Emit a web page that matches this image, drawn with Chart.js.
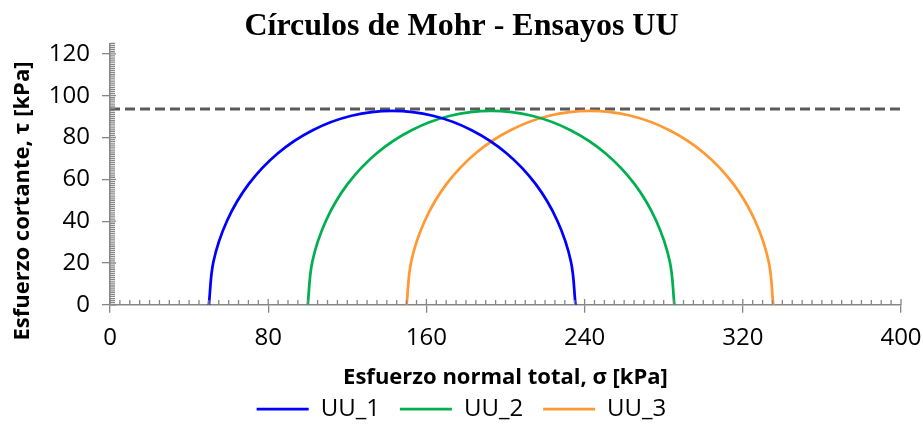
<!DOCTYPE html>
<html>
<head>
<meta charset="utf-8">
<script src="https://cdn.jsdelivr.net/npm/chart.js@4/dist/chart.umd.min.js"></script>
<style>
  body { margin: 0; background: #fff; }
  #wrap { width: 923px; height: 426px; }
</style>
</head>
<body>
<div id="wrap"><canvas id="myChart"></canvas></div>
<script>

// shear stress of the sampled points on each circle (kPa)
var tau = [0, 20.6, 40.2, 57.8, 72.5, 83.5, 90.4, 92.7, 90.4, 83.5, 72.5, 57.8, 40.2, 20.6, 0];

// total normal stress of the same points (kPa)
var sigmaUU1 = [50.0, 52.3, 59.2, 70.2, 84.9, 102.5, 122.1, 142.7, 163.3, 182.9, 200.5, 215.2, 226.2, 233.1, 235.4];
var sigmaUU2 = [100.0, 102.3, 109.2, 120.2, 134.9, 152.5, 172.1, 192.7, 213.3, 232.9, 250.5, 265.2, 276.2, 283.1, 285.4];
var sigmaUU3 = [150.0, 152.3, 159.2, 170.2, 184.9, 202.5, 222.1, 242.7, 263.3, 282.9, 300.5, 315.2, 326.2, 333.1, 335.4];

var seriesNames = ['UU_1', 'UU_2', 'UU_3'];
var seriesColors = ['#0000ff', '#00b050', '#ff9933'];

// undrained strength line
var cuSigma = [0, 400];
var cuTau = [93.6, 93.6];

var axisGray = '#868686';
var yTitle = 'Esfuerzo cortante, τ [kPa]';

function toPoints(xs, ys) {
  var pts = [];
  for (var i = 0; i < xs.length; i++) {
    pts.push({ x: xs[i], y: ys[i] });
  }
  return pts;
}

function circleDataset(i, sigma) {
  return {
    label: seriesNames[i],
    data: toPoints(sigma, tau),
    borderColor: seriesColors[i],
    backgroundColor: seriesColors[i],
    borderWidth: 2.75,
    pointRadius: 0,
    showLine: true,
    tension: 0.35,
    clip: false
  };
}

// minor ticks pointing inside, major ticks crossing the axis, y title
var axisTicks = {
  id: 'axisTicks',
  afterDraw: function(chart) {

    var ctx = chart.ctx;
    var x = chart.scales.x;
    var y = chart.scales.y;
    var bottom = Math.round(y.getPixelForValue(0));
    var left = Math.round(x.getPixelForValue(0));

    ctx.save();
    ctx.strokeStyle = axisGray;
    ctx.lineWidth = 1.3;
    ctx.beginPath();

    for (var v = 0; v <= 400; v += 5) {
      var px = x.getPixelForValue(v);
      var len = (v % 80 === 0) ? 6 : 5;
      ctx.moveTo(px, bottom);
      ctx.lineTo(px, bottom - len);
    }

    for (var t = 0; t <= 125; t += 1) {
      var py = y.getPixelForValue(t);
      var len2 = (t % 20 === 0) ? 6 : 5;
      ctx.moveTo(left, py);
      ctx.lineTo(left + len2, py);
    }

    ctx.stroke();

    // y axis title, placed like the original (a bit below the plot centre)
    ctx.translate(23, 201);
    ctx.rotate(-Math.PI / 2);
    ctx.fillStyle = '#000';
    ctx.font = 'bold 22px "Open Sans"';
    ctx.textAlign = 'center';
    ctx.textBaseline = 'middle';
    ctx.fillText(yTitle, 0, 0);
    ctx.restore();
  }
};

function init() {

  var ctx = document.getElementById('myChart').getContext('2d');

  var datasets = [
    circleDataset(0, sigmaUU1),
    circleDataset(1, sigmaUU2),
    circleDataset(2, sigmaUU3),
    {
      label: 'cu',
      data: toPoints(cuSigma, cuTau),
      borderColor: '#5a5a5a',
      backgroundColor: '#5a5a5a',
      borderWidth: 3,
      borderDash: [10, 5],
      pointRadius: 0,
      showLine: true,
      clip: false
    }
  ];

  var chart = new Chart(ctx, {
    type: 'scatter',
    data: { datasets: datasets },
    options: {
      responsive: true,
      maintainAspectRatio: false,
      animation: false,
      layout: { padding: { top: 0, right: 0, bottom: -5, left: 0 } },
      plugins: {
        title: {
          display: true,
          text: 'Círculos de Mohr - Ensayos UU',
          color: '#000',
          font: { family: 'Liberation Serif', size: 32, weight: 'bold' },
          padding: { top: 8, bottom: -3 }
        },
        legend: {
          position: 'bottom',
          labels: {
            boxWidth: 52,
            boxHeight: 0,
            padding: 20,
            color: '#000',
            font: { family: 'Open Sans', size: 24 },
            filter: function(item) { return item.datasetIndex < 3; }
          }
        },
        tooltip: { enabled: false }
      },
      scales: {
        x: {
          type: 'linear',
          min: 0,
          max: 400,
          afterFit: function(scale) { scale.paddingRight = 22; },
          ticks: {
            stepSize: 80,
            padding: 11,
            color: '#000',
            font: { family: 'Open Sans', size: 24 }
          },
          grid: { drawOnChartArea: false, drawTicks: true, tickLength: 8, color: axisGray, lineWidth: 1.3 },
          border: { display: true, color: axisGray, width: 1.5 },
          title: {
            display: true,
            text: 'Esfuerzo normal total, σ [kPa]',
            color: '#000',
            font: { family: 'Open Sans', size: 22, weight: 'bold' },
            padding: { top: 1, bottom: -14 }
          }
        },
        y: {
          type: 'linear',
          min: 0,
          max: 125,
          afterFit: function(scale) { scale.width = 110; },
          ticks: {
            stepSize: 20,
            includeBounds: false,
            padding: 12,
            color: '#000',
            font: { family: 'Open Sans', size: 24 }
          },
          grid: { drawOnChartArea: false, drawTicks: true, tickLength: 8, color: axisGray, lineWidth: 1.3 },
          border: { display: true, color: axisGray, width: 1.5 },
          title: { display: false }
        }
      }
    },
    plugins: [axisTicks]
  });
}

init();
</script>
</body>
</html>
